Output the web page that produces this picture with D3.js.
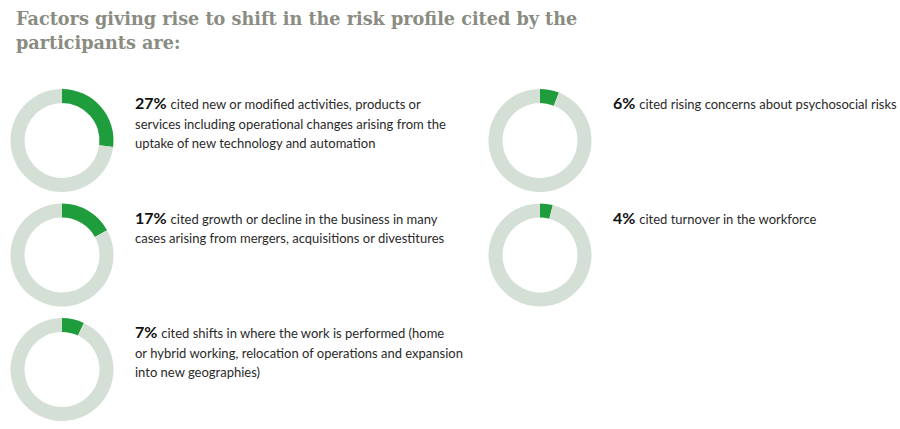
<!DOCTYPE html>
<html>
<head>
<meta charset="utf-8">
<script src="https://cdn.jsdelivr.net/npm/d3@7"></script>
<style>
  html, body { margin: 0; padding: 0; background: #ffffff; }
  svg { display: block; }
</style>
</head>
<body>
<svg id="chart" width="900" height="429"></svg>
<script>
// ---- data ----
const titleLines = [
  "Factors giving rise to shift in the risk profile cited by the",
  "participants are:"
];
const percents = [27, 17, 7, 6, 4];
const labels = ["27%", "17%", "7%", "6%", "4%"];
const descriptions = [
  ["cited new or modified activities, products or",
   "services including operational changes arising from the",
   "uptake of new technology and automation"],
  ["cited growth or decline in the business in many",
   "cases arising from mergers, acquisitions or divestitures"],
  ["cited shifts in where the work is performed (home",
   "or hybrid working, relocation of operations and expansion",
   "into new geographies)"],
  ["cited rising concerns about psychosocial risks"],
  ["cited turnover in the workforce"]
];

// ---- layout ----
const W = 900, H = 429;
const svg = d3.select("#chart");
const green = "#1f9d3d", ringGray = "#d4dfd5";
const outerR = 51.5, innerR = 37.5;
const colX = [62, 540];           // donut centre x per column
const textX = [135, 613];         // text start per column
const rowY = [140.5, 255, 369.5]; // donut centre y per row
const slots = [[0,0],[0,1],[0,2],[1,0],[1,1]];
const titleWidth = 562;

// title
const title = svg.append("g").selectAll("text").data(titleLines).join("text")
  .attr("x", 16)
  .attr("y", (d, i) => 25 + i * 24)
  .attr("font-family", "'DejaVu Serif', serif")
  .attr("font-weight", 700)
  .attr("font-size", 20)
  .attr("fill", "#8a8c82")
  .text(d => d);
const measured = title.nodes()[0].getComputedTextLength();
title.attr("font-size", 20 * titleWidth / measured);

const pie = d3.pie().sort(null).value(d => d);
const arc = d3.arc().innerRadius(innerR).outerRadius(outerR);

percents.forEach((p, i) => {
  const [c, r] = slots[i];
  const g = svg.append("g")
    .attr("transform", `translate(${colX[c]},${rowY[r]})`);
  g.selectAll("path").data(pie([p, 100 - p])).join("path")
    .attr("d", arc)
    .attr("fill", (d, j) => j === 0 ? green : ringGray);

  const t = svg.append("g")
    .attr("transform", `translate(${textX[c]},${rowY[r] - 31.5})`);
  descriptions[i].forEach((line, k) => {
    const txt = t.append("text")
      .attr("x", 0)
      .attr("y", k * 19.5)
      .attr("font-family", "Lato, sans-serif")
      .attr("font-size", 13)
      .attr("fill", "#2a2a2a");
    if (k === 0) {
      txt.append("tspan")
        .attr("font-weight", 700)
        .attr("font-size", 16)
        .attr("fill", "#111")
        .text(labels[i] + " ");
    }
    txt.append("tspan").text(line);
  });
});
</script>
</body>
</html>
